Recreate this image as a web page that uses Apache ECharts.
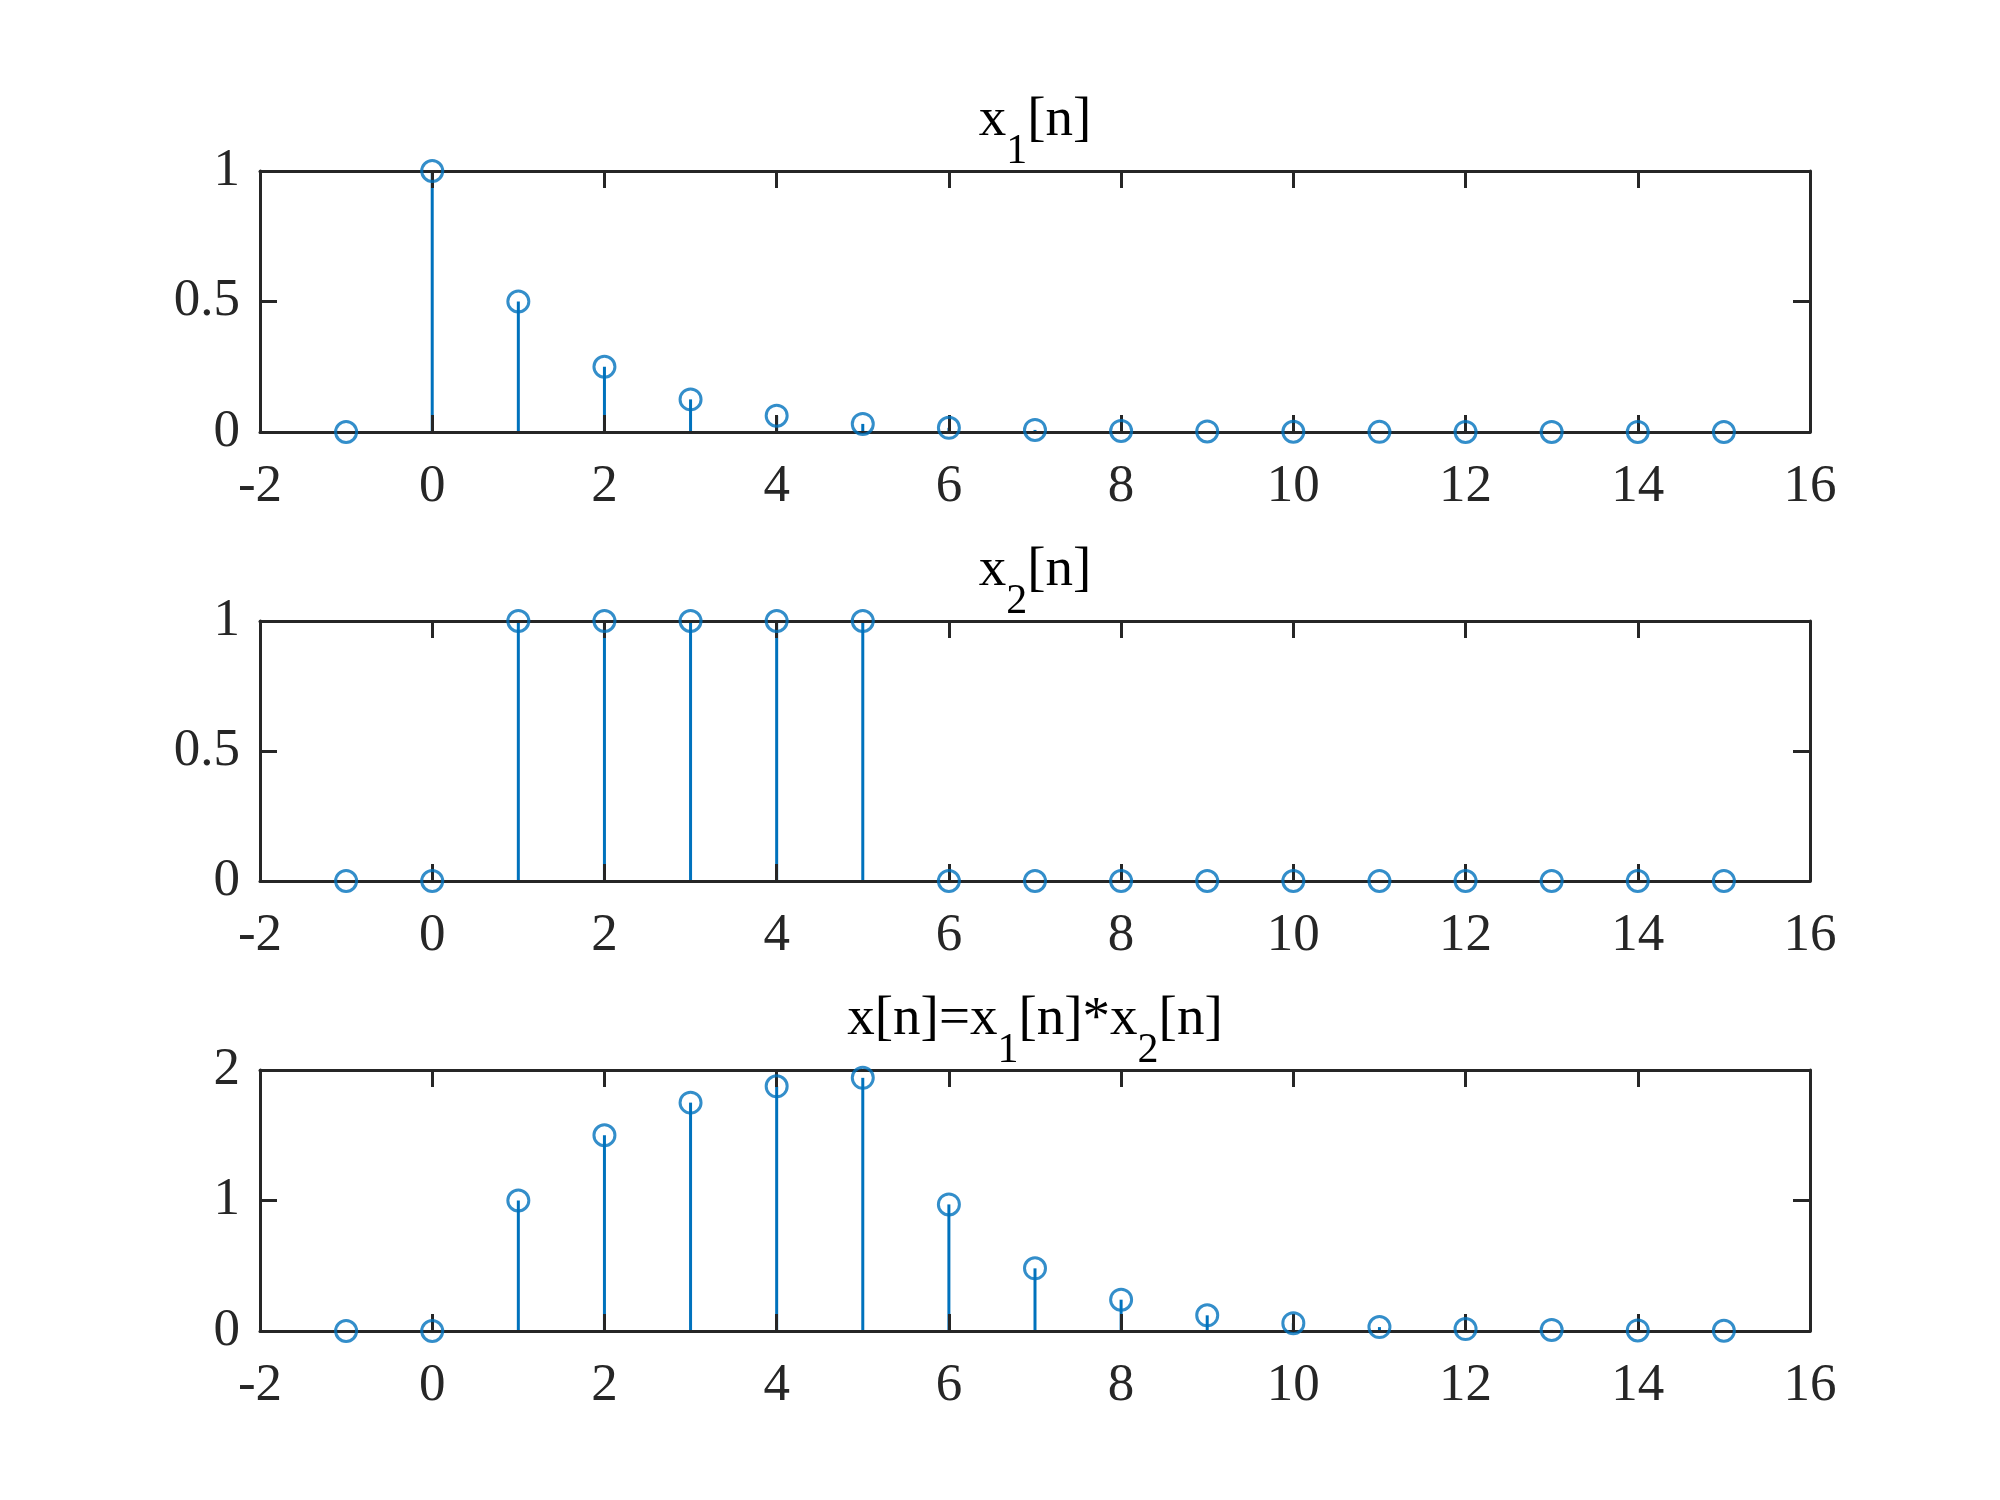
<!DOCTYPE html>
<html>
<head>
<meta charset="utf-8">
<script src="https://cdn.jsdelivr.net/npm/echarts@6/dist/echarts.min.js"></script>
<style>
  html, body { margin: 0; padding: 0; background: #fff; }
  #main { width: 2000px; height: 1500px; }
</style>
</head>
<body>
<div id="main"></div>
<script>
// sample index
const n = [-1, 0, 1, 2, 3, 4, 5, 6, 7, 8, 9, 10, 11, 12, 13, 14, 15];
// x1[n] = 0.5^n u[n]
const x1 = [0, 1, 0.5, 0.25, 0.125, 0.0625, 0.031, 0.016, 0.008, 0.004, 0.002, 0.001, 0.0005, 0.0002, 0.0001, 0.0001, 0];
// x2[n] rectangular pulse
const x2 = [0, 0, 1, 1, 1, 1, 1, 0, 0, 0, 0, 0, 0, 0, 0, 0, 0];
// x[n] = x1[n]*x2[n]
const xc = [0, 0, 1, 1.5, 1.75, 1.875, 1.94, 0.97, 0.48, 0.24, 0.12, 0.06, 0.03, 0.015, 0.008, 0.004, 0.002];

const xTicks = [-2, 16, 2];
const yRanges = [[0, 1, 0.5], [0, 1, 0.5], [0, 2, 1]];

const blue = '#0072BD';
const axisColor = '#262626';
const font = '"Liberation Serif", "Times New Roman", serif';

const grids = [
  { left: 260, top: 171, width: 1550, height: 261 },
  { left: 260, top: 621, width: 1550, height: 260 },
  { left: 260, top: 1070, width: 1550, height: 261 },
];

const titleBase = [139, 589, 1038]; // baseline of title text

const titleTexts = [
  '{a|x}{s|1}{a|[n]}',
  '{a|x}{s|2}{a|[n]}',
  '{a|x[n]=x}{s|1}{a|[n]*x}{s|2}{a|[n]}',
];

const chart = echarts.init(document.getElementById('main'), null, { renderer: 'canvas' });

const xAxes = [], yAxes = [], series = [], titles = [];
const datasets = [x1, x2, xc];

grids.forEach((g, i) => {
  const common = {
    gridIndex: i,
    type: 'value',
    z: 3,
    axisLine: { show: true, onZero: false, lineStyle: { color: axisColor, width: 3 } },
    axisTick: { show: true, inside: true, length: 17, lineStyle: { color: axisColor, width: 3 } },
    splitLine: { show: false },
  };
  xAxes.push(Object.assign({}, common, {
    position: 'bottom',
    min: xTicks[0], max: xTicks[1], interval: xTicks[2],
    axisLabel: { show: true, margin: 29, fontSize: 53, color: axisColor, fontFamily: font },
  }));
  xAxes.push(Object.assign({}, common, {
    position: 'top',
    min: xTicks[0], max: xTicks[1], interval: xTicks[2],
    axisLabel: { show: false },
  }));
  const yr = yRanges[i];
  yAxes.push(Object.assign({}, common, {
    position: 'left',
    min: yr[0], max: yr[1], interval: yr[2],
    axisLabel: { show: true, margin: 20, fontSize: 53, color: axisColor, fontFamily: font },
  }));
  yAxes.push(Object.assign({}, common, {
    position: 'right',
    min: yr[0], max: yr[1], interval: yr[2],
    axisLabel: { show: false },
  }));

  const data = n.map((v, k) => [v, datasets[i][k]]);
  series.push({
    type: 'custom',
    xAxisIndex: i * 2,
    yAxisIndex: i * 2,
    data: data,
    encode: { x: 0, y: 1 },
    z: 2,
    renderItem: (params, api) => {
      const p0 = api.coord([api.value(0), 0]);
      const p1 = api.coord([api.value(0), api.value(1)]);
      return {
        type: 'line',
        shape: { x1: p0[0], y1: p0[1], x2: p1[0], y2: p1[1] },
        style: { stroke: blue, lineWidth: 3 },
      };
    },
  });
  series.push({
    type: 'scatter',
    xAxisIndex: i * 2,
    yAxisIndex: i * 2,
    data: data,
    symbol: 'circle',
    symbolSize: 21,
    z: 4,
    itemStyle: { color: 'rgba(0,0,0,0)', borderColor: blue, borderWidth: 3 },
    silent: true,
  });

  titles.push({
    text: titleTexts[i],
    left: g.left + g.width / 2,
    textAlign: 'center',
    top: titleBase[i] - 46,
    padding: 0,
    textStyle: {
      fontWeight: 'normal',
      rich: {
        a: { fontSize: 55, fontFamily: font, fontWeight: 'normal', color: '#000', verticalAlign: 'top' },
        s: { fontSize: 42, fontFamily: font, fontWeight: 'normal', color: '#000', verticalAlign: 'top', padding: [38, 0, 0, 0] },
      },
    },
  });
});

chart.setOption({
  backgroundColor: '#fff',
  animation: false,
  title: titles,
  grid: grids.map((g) => Object.assign({ outerBoundsMode: 'none', containLabel: false }, g)),
  xAxis: xAxes,
  yAxis: yAxes,
  series: series,
});
</script>
</body>
</html>
